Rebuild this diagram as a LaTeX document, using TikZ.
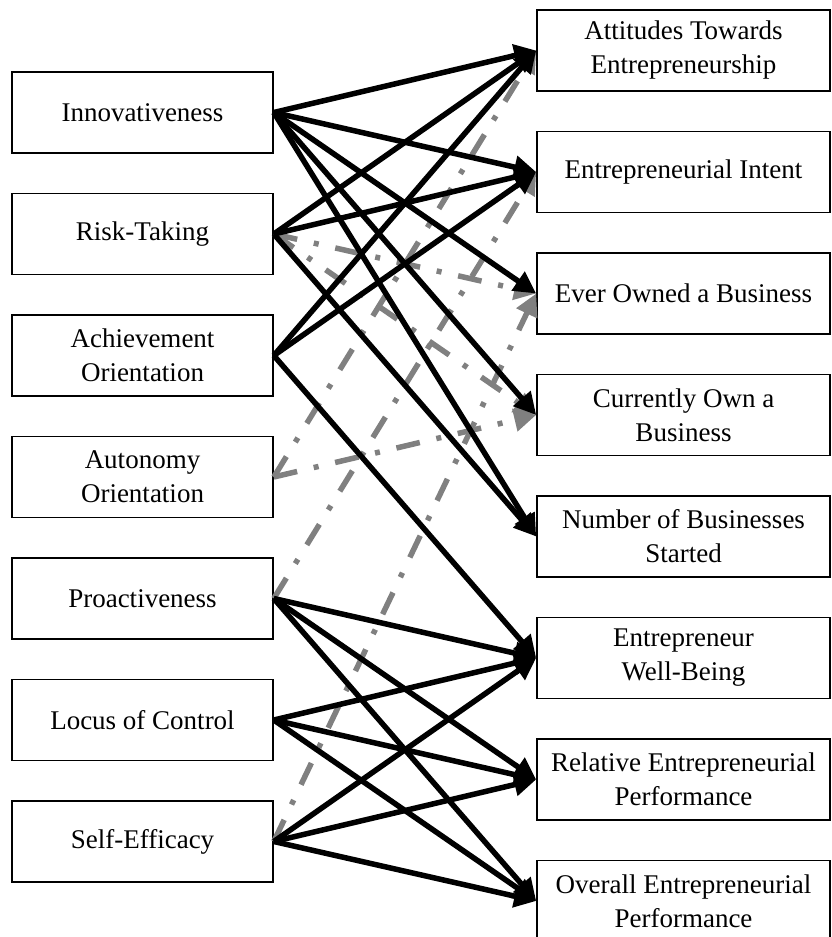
\documentclass[tikz,border=0pt]{standalone}
\usepackage{fontspec}
\setmainfont{Liberation Serif}
\usetikzlibrary{arrows.meta}
\tikzset{
  tr/.style={draw, line width=1.6pt, minimum width=261pt, minimum height=81pt,
             align=center, inner sep=0pt, font=\fontsize{27}{34}\selectfont},
  oc/.style={tr, minimum width=293pt},
  sig/.style={line width=5.5pt, -{Triangle[length=22pt,width=22pt]}},
  mix/.style={sig, gray, dash pattern=on 24pt off 17pt on 5pt off 17pt}
}

\begin{document}
\begin{tikzpicture}[x=1pt, y=-1pt]
  \useasboundingbox (0,0) rectangle (832,937);
  % Traits
  \node[tr] (inn)  at (142.5,112.5) {Innovativeness};
  \node[tr] (risk) at (142.5,234)   {Risk-Taking};
  \node[tr] (ach)  at (142.5,355.5) {Achievement\\Orientation};
  \node[tr] (aut)  at (142.5,477)   {Autonomy\\Orientation};
  \node[tr] (pro)  at (142.5,598.5) {Proactiveness};
  \node[tr] (loc)  at (142.5,720)   {Locus of Control};
  \node[tr] (se)   at (142.5,841.5) {Self-Efficacy};
  % Outcomes
  \node[oc] (att)    at (683.5,50.5)  {Attitudes Towards\\Entrepreneurship};
  \node[oc] (intent) at (683.5,172)   {Entrepreneurial Intent};
  \node[oc] (ever)   at (683.5,293.5) {Ever Owned a Business};
  \node[oc] (cur)    at (683.5,415)   {Currently Own a\\Business};
  \node[oc] (num)    at (683.5,536.5) {Number of Businesses\\Started};
  \node[oc] (wb)     at (683.5,658)   {Entrepreneur\\Well-Being};
  \node[oc] (rel)    at (683.5,779.5) {Relative Entrepreneurial\\Performance};
  \node[oc] (ovr)    at (683.5,901)   {Overall Entrepreneurial\\Performance};
  % mixed results (drawn first, under the black ones)
  \draw[mix] (risk.east) -- (ever.west);
  \draw[mix] (risk.east) -- (cur.west);
  \draw[mix] (aut.east) -- (att.west);
  \draw[mix] (aut.east) -- (cur.west);
  \draw[mix] (pro.east) -- (intent.west);
  \draw[mix] (se.east) -- (ever.west);
  % supported links
  \draw[sig] (inn.east) -- (att.west);
  \draw[sig] (inn.east) -- (intent.west);
  \draw[sig] (inn.east) -- (ever.west);
  \draw[sig] (inn.east) -- (cur.west);
  \draw[sig] (inn.east) -- (num.west);
  \draw[sig] (risk.east) -- (att.west);
  \draw[sig] (risk.east) -- (intent.west);
  \draw[sig] (risk.east) -- (num.west);
  \draw[sig] (ach.east) -- (att.west);
  \draw[sig] (ach.east) -- (intent.west);
  \draw[sig] (ach.east) -- (wb.west);
  \draw[sig] (pro.east) -- (wb.west);
  \draw[sig] (pro.east) -- (rel.west);
  \draw[sig] (pro.east) -- (ovr.west);
  \draw[sig] (loc.east) -- (wb.west);
  \draw[sig] (loc.east) -- (rel.west);
  \draw[sig] (loc.east) -- (ovr.west);
  \draw[sig] (se.east) -- (wb.west);
  \draw[sig] (se.east) -- (rel.west);
  \draw[sig] (se.east) -- (ovr.west);
\end{tikzpicture}
\end{document}
